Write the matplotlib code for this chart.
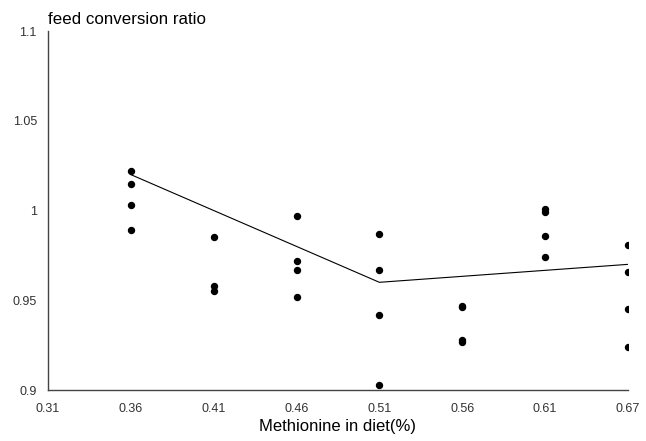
import matplotlib.pyplot as plt
import numpy as np

plt.rcParams["font.family"] = ["Liberation Sans", "DejaVu Sans"]

# tick labels along x (evenly spaced categories)
x_labels = ["0.31", "0.36", "0.41", "0.46", "0.51", "0.56", "0.61", "0.67"]

# replicate observations per methionine level
levels = ["0.36", "0.41", "0.46", "0.51", "0.56", "0.61", "0.67"]
fcr_036 = [1.022, 1.015, 1.003, 0.989]
fcr_041 = [0.985, 0.958, 0.955]
fcr_046 = [0.997, 0.972, 0.967, 0.952]
fcr_051 = [0.987, 0.967, 0.942, 0.903]
fcr_056 = [0.947, 0.946, 0.928, 0.927]
fcr_061 = [1.001, 0.999, 0.986, 0.974]
fcr_067 = [0.981, 0.966, 0.945, 0.924]

# broken-line fit
fit_levels = ["0.36", "0.51", "0.67"]
fit_values = [1.020, 0.960, 0.970]

groups = [fcr_036, fcr_041, fcr_046, fcr_051, fcr_056, fcr_061, fcr_067]
pos = {lab: i for i, lab in enumerate(x_labels)}

fig = plt.figure(figsize=(6.46, 4.41), dpi=100)
ax = fig.add_axes([0.0743, 0.1156, 0.8977, 0.8141])

for lev, vals in zip(levels, groups):
    ax.plot([pos[lev]] * len(vals), vals, "o", color="black", markersize=4.3, linestyle="none")

ax.plot([pos[l] for l in fit_levels], fit_values, color="black", linewidth=0.8)

ax.set_xlim(0, len(x_labels) - 1)
ax.set_ylim(0.9, 1.1)
ax.set_xticks(np.arange(len(x_labels)))
ax.set_xticklabels(x_labels)
ax.set_yticks([0.9, 0.95, 1.0, 1.05, 1.1])
ax.set_yticklabels(["0.9", "0.95", "1", "1.05", "1.1"])
ax.tick_params(length=0, labelsize=9, colors="#333333")
ax.tick_params(axis="x", pad=9)
ax.tick_params(axis="y", pad=8)

for side in ["top", "right"]:
    ax.spines[side].set_visible(False)
for side in ["left", "bottom"]:
    ax.spines[side].set_color("#444444")
    ax.spines[side].set_linewidth(1.0)

ax.set_xlabel("Methionine in diet(%)", fontsize=12, labelpad=3)
ax.text(0.0, 1.012, "feed conversion ratio", transform=ax.transAxes, fontsize=12.2, ha="left", va="bottom")

fig.savefig("out.png", dpi=100)
